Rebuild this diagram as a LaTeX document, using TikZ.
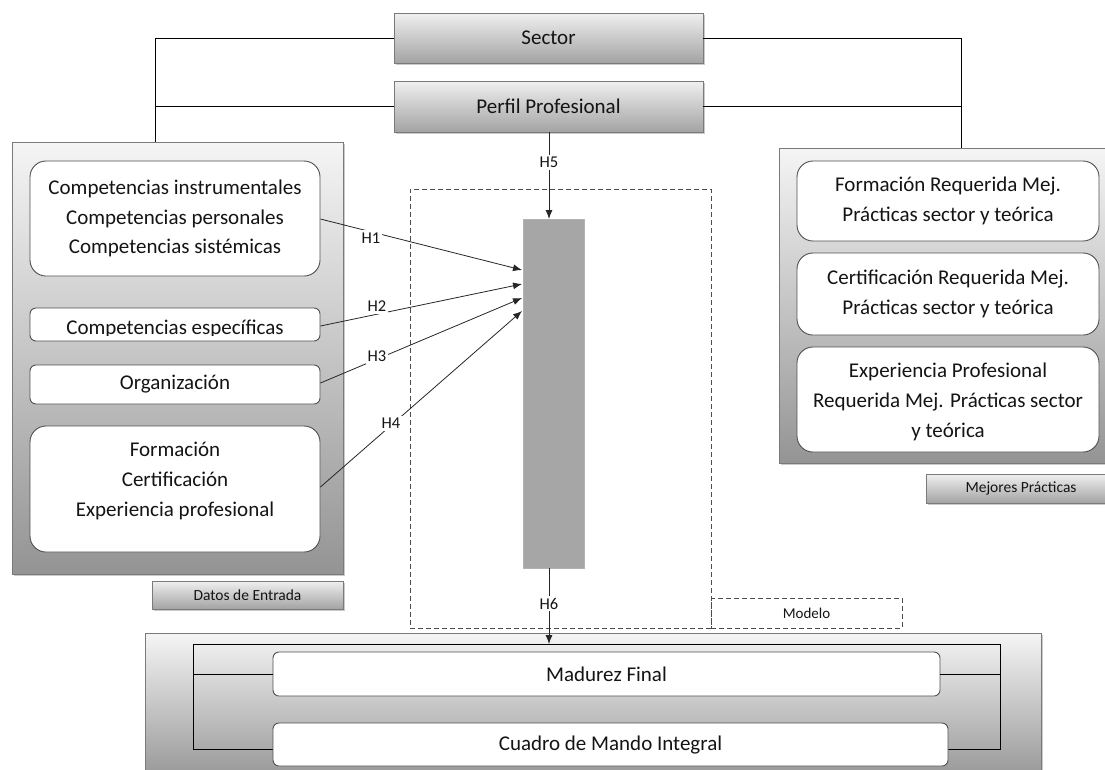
\documentclass[tikz,border=0pt]{standalone}
\usepackage{fontspec}
\setmainfont{Carlito}
\usetikzlibrary{arrows.meta,shadows}
\definecolor{ink}{HTML}{141414}
\definecolor{edge}{HTML}{505050}
\definecolor{frame}{HTML}{7A7A7A}
\tikzset{
  panel/.style={draw=frame, line width=0.8pt, top color=white!96!black, bottom color=black!42,
    drop shadow={shadow xshift=2pt, shadow yshift=-2pt, opacity=0.35, fill=black!60}},
  hdrbox/.style={draw=frame, line width=0.8pt, top color=white!94!black, bottom color=black!36,
    text=ink, font=\fontsize{21}{25}\selectfont, inner sep=0pt,
    drop shadow={shadow xshift=2pt, shadow yshift=-2pt, opacity=0.35, fill=black!60}},
  tagbox/.style={draw=frame, line width=0.8pt, top color=white!94!black, bottom color=black!36,
    text=ink, font=\fontsize{15.5}{18}\selectfont, inner sep=0pt,
    drop shadow={shadow xshift=1.5pt, shadow yshift=-1.5pt, opacity=0.35, fill=black!60}},
  txtbox/.style={draw=edge, line width=0.9pt, fill=white, text=ink, align=center,
    font=\fontsize{21}{29.5}\selectfont, inner sep=0pt},
  btxt/.style={text=ink, align=center, font=\fontsize{21}{30}\selectfont, inner sep=0pt},
  bigr/.style={rounded corners=16pt},
  smallr/.style={rounded corners=6pt},
  wire/.style={draw=black, line width=0.8pt},
  arr/.style={draw=black!85, line width=0.8pt, -{Latex[length=9pt,width=7pt]}},
  hlbl/.style={fill=white, text=ink, font=\fontsize{16.5}{18}\selectfont, inner sep=2pt},
  dashbox/.style={draw=black!70, line width=0.8pt, dash pattern=on 5pt off 3pt},
}
\begin{document}
\begin{tikzpicture}[x=1pt,y=-1pt]
\useasboundingbox (0,0) rectangle (1105,769);

% ---- top header boxes
\node[hdrbox, minimum width=309pt, minimum height=50pt] (sector) at (548.5,38) {Sector};
\node[hdrbox, minimum width=309pt, minimum height=51pt] (perfil) at (548.5,106.5) {Perfil Profesional};

% ---- input data panel
\node[panel, minimum width=331pt, minimum height=432pt, inner sep=0pt] (datos) at (177.5,358) {};
\node[tagbox, minimum width=191pt, minimum height=28pt] (tagdatos) at (247.5,595) {Datos de Entrada};

\node[txtbox, bigr, minimum width=290pt, minimum height=115pt] (c1) at (175,218.5)
  {Competencias instrumentales\\Competencias personales\\Competencias sistémicas};
\node[txtbox, smallr, minimum width=290pt, minimum height=33pt] (c2) at (175,324.5) {};
\begin{scope}
  \clip (31,309) rectangle (319,335);
  \node[btxt, anchor=base] (c2txt) at (175,334.5) {Competencias específicas};
\end{scope}
\node[txtbox, smallr, minimum width=290pt, minimum height=39pt] (c3) at (175,384.5) {Organización};
\node[txtbox, bigr, minimum width=290pt, minimum height=126pt] (c4) at (175,489) {};
\node[btxt] (c4txt) at (175,481) {Formación\\Certificación\\Experiencia profesional};

% ---- best practices panel
\node[panel, minimum width=340pt, minimum height=315pt, inner sep=0pt] (mejores) at (949,305.5) {};
\node[tagbox, minimum width=190pt, minimum height=29pt] (tagmej) at (1021,488.5) {Mejores Prácticas};

\node[txtbox, bigr, minimum width=302pt, minimum height=80pt] (m1) at (948,201)
  {Formación Requerida Mej.\\Prácticas sector y teórica};
\node[txtbox, bigr, minimum width=302pt, minimum height=82pt] (m2) at (948,294)
  {Certificación Requerida Mej.\\Prácticas sector y teórica};
\node[txtbox, bigr, minimum width=302pt, minimum height=105pt] (m3) at (948,399.5) {};
\node[btxt] (m3txt) at (948,401.5) {Experiencia Profesional\\Requerida Mej. Prácticas sector\\y teórica};

% ---- wiring from the header boxes to both panels
\coordinate (ltop) at (155,142);
\coordinate (rtop) at (961,148);
\draw[wire] (sector.west) -| (ltop);
\draw[wire] (perfil.west) -- (perfil.west -| ltop);
\draw[wire] (sector.east) -| (rtop);
\draw[wire] (perfil.east) -- (perfil.east -| rtop);

% ---- model area
\node[dashbox, minimum width=301pt, minimum height=439pt, inner sep=0pt] (modelo) at (560.5,408.5) {};
\node[dashbox, minimum width=191pt, minimum height=30pt, inner sep=0pt, text=ink,
  font=\fontsize{15}{17}\selectfont] (tagmodelo) at (806.5,613) {Modelo};
\node[fill=black!35, draw=black!30, line width=0.5pt, minimum width=61pt, minimum height=349pt, inner sep=0pt] (bar) at (553.5,393.5) {};

% ---- hypotheses
\coordinate (t1) at (522,270);
\coordinate (t2) at (522,284);
\coordinate (t3) at (522,298);
\coordinate (t4) at (522,311);
\draw[arr] (c1.east |- 0,219) -- node[hlbl, pos=0.25, yshift=-6pt] {H1} (t1);
\draw[arr] (c2.east |- 0,326) -- node[hlbl, pos=0.28, yshift=8pt] {H2} (t2);
\draw[arr] (c3.east |- 0,383) -- node[hlbl, pos=0.28, yshift=3pt] {H3} (t3);
\draw[arr] (c4.east |- 0,487) -- node[hlbl, pos=0.36, xshift=-2pt] {H4} (t4);

\coordinate (h5end) at (549,219);
\draw[arr] (perfil.south -| h5end) -- node[hlbl, pos=0.35] {H5} (h5end);

% ---- results panel
\node[panel, minimum width=896pt, minimum height=150pt, inner sep=0pt] (final) at (593,708) {};
\coordinate (fl) at (193,644);
\coordinate (fr) at (1000,749);
\coordinate (h6end) at (549,644);
\draw[wire] (fl) rectangle (fr);
\draw[arr] (bar.south -| h6end) -- node[hlbl, pos=0.47] {H6} (h6end);

\node[txtbox, smallr, minimum width=667pt, minimum height=44pt, font=\fontsize{21}{25}\selectfont] (madurez) at (606.5,674) {Madurez Final};
\node[txtbox, smallr, minimum width=675pt, minimum height=43pt, font=\fontsize{21}{25}\selectfont] (cuadro) at (610.5,744.5) {Cuadro de Mando Integral};
\draw[wire] (madurez.west) -- (madurez.west -| fl);
\draw[wire] (madurez.east) -- (madurez.east -| fr);
\end{tikzpicture}
\end{document}
